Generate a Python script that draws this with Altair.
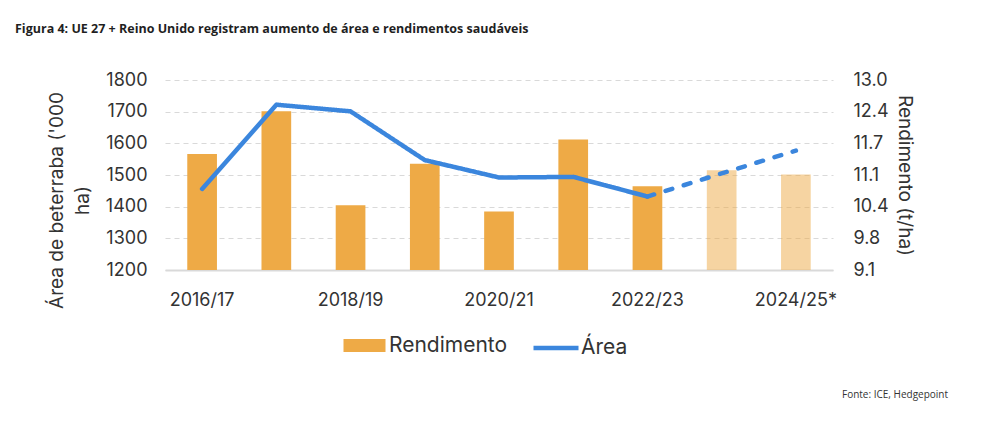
import altair as alt
import pandas as pd

# ---- data ----
seasons = ["2016/17", "2017/18", "2018/19", "2019/20", "2020/21",
           "2021/22", "2022/23", "2023/24", "2024/25*"]
rendimento = [11.48, 12.36, 10.43, 11.28, 10.30, 11.78, 10.82, 11.15, 11.06]  # t/ha
area = [1456, 1722, 1701, 1547, 1492, 1494, 1432, 1505, 1577]                   # '000 ha
projetado = [False, False, False, False, False, False, False, True, True]
shown_labels = ["2016/17", "2018/19", "2020/21", "2022/23", "2024/25*"]
left_ticks = [1200, 1300, 1400, 1500, 1600, 1700, 1800]
right_ticks = [9.1, 9.75, 10.4, 11.05, 11.7, 12.35, 13.0]
y_right_min = 9.1

ORANGE = "#EEAA46"
BLUE = "#3B86DD"
GRID = "#D9D9D9"
TXT = "#333333"
FONT = "Inter"

bars_df = pd.DataFrame({"safra": seasons, "rend": rendimento,
                        "proj": projetado, "serie": "Rendimento"})

rows = []
for i, s in enumerate(seasons):
    if i <= 6:
        rows.append({"safra": s, "area": area[i], "seg": "real", "serie": "Área"})
    if i >= 6:
        rows.append({"safra": s, "area": area[i], "seg": "proj", "serie": "Área"})
line_df = pd.DataFrame(rows)

src_df = pd.DataFrame({"t": ["Fonte: ICE, Hedgepoint"]})

x_enc = alt.X(
    "safra:N", sort=seasons,
    scale=alt.Scale(paddingInner=0.6, paddingOuter=0.3),
    axis=alt.Axis(values=shown_labels, labelAngle=0, title=None, ticks=False,
                  domainColor=GRID, domainWidth=2, labelFont=FONT,
                  labelFontSize=18, labelColor=TXT, labelPadding=21),
)

bars = alt.Chart(bars_df).mark_bar().encode(
    x=x_enc,
    y=alt.Y("rend:Q",
            scale=alt.Scale(domain=[9.1, 13.0], nice=False, zero=False),
            axis=alt.Axis(orient="right", values=right_ticks,
                          labelExpr="format(datum.value + 0.001, '.1f')",
                          grid=False, ticks=False, domain=False,
                          title="Rendimento (t/ha)", titleFont=FONT,
                          titleFontSize=19, titleFontWeight="normal",
                          titleColor=TXT, titlePadding=6,
                          labelFont=FONT, labelFontSize=18, labelColor=TXT,
                          labelPadding=20)),
    y2=alt.datum(y_right_min),
    fill=alt.Fill("serie:N", scale=alt.Scale(domain=["Rendimento"], range=[ORANGE]),
                  legend=alt.Legend(title=None, orient="none", legendX=189, legendY=255,
                                    symbolType="M-4.2,-1.3L4.2,-1.3L4.2,1.3L-4.2,1.3Z",
                                    symbolSize=100, symbolStrokeWidth=0,
                                    labelFont=FONT, labelFontSize=21, labelColor=TXT,
                                    labelOffset=14)),
    opacity=alt.condition("datum.proj", alt.value(0.5), alt.value(1.0)),
)

line = alt.Chart(line_df).mark_line(strokeWidth=4.5, strokeCap="round",
                                    strokeJoin="round").encode(
    x=x_enc,
    y=alt.Y("area:Q",
            scale=alt.Scale(domain=[1200, 1800], nice=False, zero=False),
            axis=alt.Axis(orient="left", values=left_ticks, format="d", grid=True,
                          gridDash=[5, 4], gridColor=GRID, ticks=False,
                          domain=False,
                          title=["Área de beterraba ('000", "ha)"],
                          titleFont=FONT, titleFontSize=19,
                          titleFontWeight="normal", titleColor=TXT,
                          titleAngle=-90, titleX=-118, titleY=120,
                          titleAlign="center", titleBaseline="top",
                          titleLineHeight=26,
                          labelFont=FONT, labelFontSize=18, labelColor=TXT,
                          labelPadding=18)),
    stroke=alt.Stroke("serie:N", scale=alt.Scale(domain=["Área"], range=[BLUE]),
                      legend=alt.Legend(title=None, orient="none", legendX=366,
                                        legendY=243, symbolType="stroke",
                                        symbolSize=2025, symbolStrokeWidth=4.5,
                                        labelFont=FONT, labelFontSize=21,
                                        labelColor=TXT, labelOffset=0)),
    strokeDash=alt.StrokeDash("seg:N",
                              scale=alt.Scale(domain=["real", "proj"],
                                              range=[[1, 0], [7, 12]]),
                              legend=None),
)

source = alt.Chart(src_df).mark_text(
    align="left", baseline="middle", font="Open Sans", fontSize=10, color=TXT
).encode(x=alt.value(677), y=alt.value(315), text="t:N")

chart = alt.layer(bars, line, source).resolve_scale(
    y="independent"
).properties(
    width=668, height=190,
    autosize=alt.AutoSizeParams(type="none"),
    padding={"left": 165, "top": 80, "right": 163, "bottom": 153},
    title=alt.TitleParams(
        "Figura 4: UE 27 + Reino Unido registram aumento de área e rendimentos saudáveis",
        anchor="start", frame="group", dx=-150, offset=36,
        font="Open Sans", fontSize=12.5, fontWeight="bold", color="#1f1f1f"),
).configure_view(stroke=None)

chart.save("out.html", embed_options={"renderer": "svg", "actions": False})
